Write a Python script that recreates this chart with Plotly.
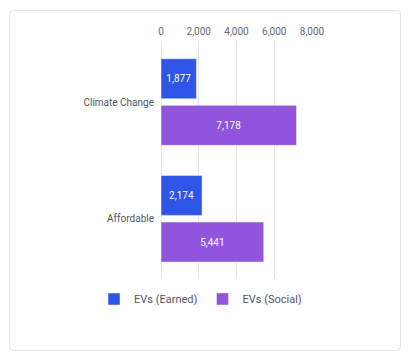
import plotly.graph_objects as go

categories = ["Climate Change", "Affordable"]
earned = [1877, 2174]
social = [7178, 5441]
x_ticks = [0, 2000, 4000, 6000, 8000]

W, H = 414, 364
OFF = 8  # page body margin
# plot area in page pixels
PL, PR, PT, PB = 161, 312, 41, 278
L, T = PL - OFF, PT - OFF
R, B = W - (PR - OFF), H - (PB - OFF)
PW, PH = PR - PL, PB - PT

def px(x):
    return (x - PL) / PW

def py(y):
    return (PB - y) / PH

blue = "#2E55E6"
purple = "#9154DC"

fig = go.Figure()
fig.add_trace(go.Bar(
    y=categories, x=earned, orientation="h", name="EVs (Earned)",
    marker=dict(color=blue, line=dict(color="rgba(255,255,255,0.45)", width=1)),
    text=[f"{v:,}" for v in earned], textposition="inside", insidetextanchor="middle",
    textfont=dict(color="white", size=10, family="Roboto"),
))
fig.add_trace(go.Bar(
    y=categories, x=social, orientation="h", name="EVs (Social)",
    marker=dict(color=purple, line=dict(color="rgba(255,255,255,0.45)", width=1)),
    text=[f"{v:,}" for v in social], textposition="inside", insidetextanchor="middle",
    textfont=dict(color="white", size=10, family="Roboto"),
))

# card outline with rounded corners (page pixel coords)
x0, x1, y0, y1, r = 9.5, 400.5, 10.5, 350.5, 4
path = (
    f"M {px(x0 + r)},{py(y0)} L {px(x1 - r)},{py(y0)} Q {px(x1)},{py(y0)} {px(x1)},{py(y0 + r)} "
    f"L {px(x1)},{py(y1 - r)} Q {px(x1)},{py(y1)} {px(x1 - r)},{py(y1)} "
    f"L {px(x0 + r)},{py(y1)} Q {px(x0)},{py(y1)} {px(x0)},{py(y1 - r)} "
    f"L {px(x0)},{py(y0 + r)} Q {px(x0)},{py(y0)} {px(x0 + r)},{py(y0)} Z"
)
fig.add_shape(type="path", path=path, xref="paper", yref="paper",
              line=dict(color="#E6E6E6", width=1), layer="below")

fig.update_layout(
    width=W, height=H,
    margin=dict(l=L, r=R, t=T, b=B, autoexpand=False),
    paper_bgcolor="white", plot_bgcolor="white",
    barmode="group", bargap=0.2, bargroupgap=0.143,
    font=dict(family="Roboto", size=10, color="#555"),
    xaxis=dict(side="top", range=[0, 8000], tickvals=x_ticks,
               ticktext=[f"{v:,}" for v in x_ticks],
               showgrid=True, gridcolor="#E4E4E4", gridwidth=1,
               zeroline=True, zerolinecolor="#E4E4E4", zerolinewidth=1,
               showline=False, ticks="", ticklabelstandoff=3,
               tickfont=dict(size=10, color="#676775")),
    yaxis=dict(range=[1.508, -0.523], showgrid=False, zeroline=False,
               showline=False, ticks="", ticklabelstandoff=6,
               tickfont=dict(size=10, color="#555563")),
    legend=dict(orientation="h", x=px(94), xanchor="left",
                y=py(299), yanchor="middle",
                font=dict(size=11, color="#555563"),
                itemwidth=30, traceorder="normal"),
    showlegend=True,
)

fig.write_html("out.html")
